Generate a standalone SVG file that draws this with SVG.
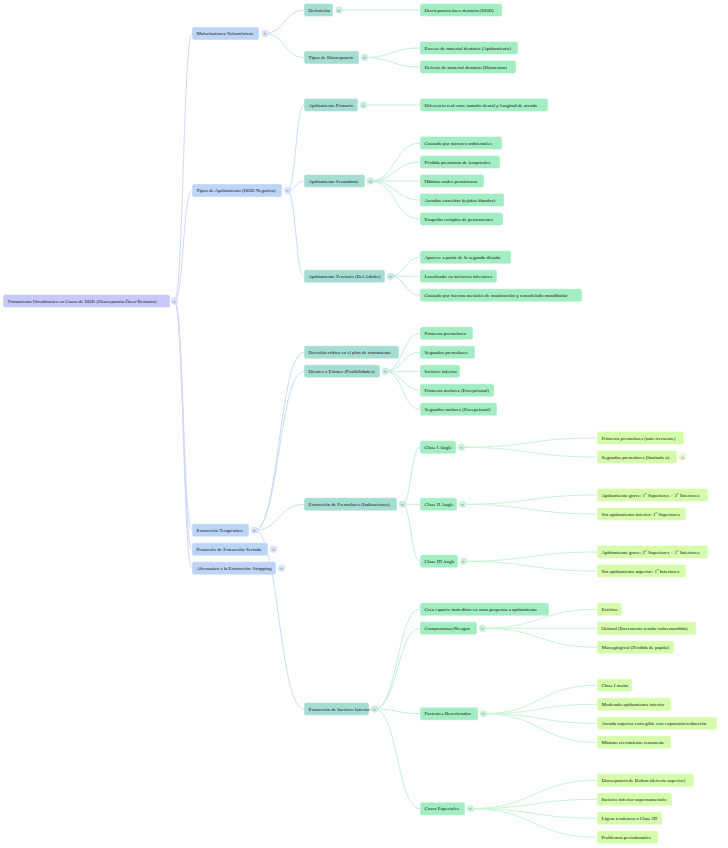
<svg xmlns="http://www.w3.org/2000/svg" width="728" height="848" viewBox="0 0 728 848">
<style>
rect.b{rx:2;ry:2;stroke:#ffffff;stroke-opacity:0.55;stroke-width:0.8}
.n0{fill:#c6c9fa}
.n1{fill:#bcd4f5}
.n2{fill:#a5ddd2}
.n3{fill:#a2eec2}
.n4{fill:#d5fcab}
text.t{font-family:"Liberation Serif","Times New Roman",serif;font-size:5px;fill:#151515;dominant-baseline:central}
path{fill:none;stroke-width:1}
.e0{stroke:#d3d7f8}
.e1{stroke:#cbdcf5}
.e2{stroke:#c3ede1}
.e3{stroke:#c8f4d4}
circle.g0{fill:#dfe2fa;stroke:#cfd3f5;stroke-width:0.5}
circle.g1{fill:#dbe6f8;stroke:#c6d7f2;stroke-width:0.5}
circle.g2{fill:#cdeee6;stroke:#b5e3d8;stroke-width:0.5}
circle.g3{fill:#cdf5da;stroke:#b5ecc8;stroke-width:0.5}
circle.g4{fill:#e6fdca;stroke:#d0f5a8;stroke-width:0.5}
text.k{font-family:"DejaVu Sans",sans-serif;font-size:4px;fill:#6a7080;text-anchor:middle;dominant-baseline:central}
</style>
<g id="connectors">
<path class="e0" d="M174.5 301 C183.3 301 183.3 33.5 192 33.5"/>
<path class="e0" d="M174.5 301 C183.3 301 183.3 190.5 192 190.5"/>
<path class="e0" d="M174.5 301 C183.3 301 183.3 530.3 192 530.3"/>
<path class="e0" d="M174.5 301 C183.3 301 183.3 549.3 192 549.3"/>
<path class="e0" d="M174.5 301 C183.3 301 183.3 568.3 192 568.3"/>
<path class="e1" d="M265 33.5 C284.5 33.5 284.5 10 304 10"/>
<path class="e1" d="M265 33.5 C284.5 33.5 284.5 57.5 304 57.5"/>
<path class="e1" d="M287.5 190.5 C295.8 190.5 295.8 105 304 105"/>
<path class="e1" d="M287.5 190.5 C295.8 190.5 295.8 181 304 181"/>
<path class="e1" d="M287.5 190.5 C295.8 190.5 295.8 276.3 304 276.3"/>
<path class="e1" d="M254.5 530.3 C279 530.3 279 352.3 304 352.3"/>
<path class="e1" d="M254.5 530.3 C279 530.3 279 371.3 304 371.3"/>
<path class="e1" d="M254.5 530.3 C279 530.3 279 504.3 304 504.3"/>
<path class="e1" d="M254.5 530.3 C279 530.3 279 709 304 709"/>
<path class="e2" d="M339 10 L420 10"/>
<path class="e2" d="M364.5 57.5 C392 57.5 392 48 420 48"/>
<path class="e2" d="M364.5 57.5 C392 57.5 392 67 420 67"/>
<path class="e2" d="M363.5 105 L420 105"/>
<path class="e2" d="M370.5 181 C395 181 395 143 420 143"/>
<path class="e2" d="M370.5 181 C395 181 395 162 420 162"/>
<path class="e2" d="M370.5 181 L420 181"/>
<path class="e2" d="M370.5 181 C395 181 395 200 420 200"/>
<path class="e2" d="M370.5 181 C395 181 395 219 420 219"/>
<path class="e2" d="M390.5 276.3 C405 276.3 405 257.3 420 257.3"/>
<path class="e2" d="M390.5 276.3 L420 276.3"/>
<path class="e2" d="M390.5 276.3 C405 276.3 405 295.3 420 295.3"/>
<path class="e2" d="M385.5 371.3 C402.5 371.3 402.5 333.3 420 333.3"/>
<path class="e2" d="M385.5 371.3 C402.5 371.3 402.5 352.3 420 352.3"/>
<path class="e2" d="M385.5 371.3 L420 371.3"/>
<path class="e2" d="M385.5 371.3 C402.5 371.3 402.5 390.3 420 390.3"/>
<path class="e2" d="M385.5 371.3 C402.5 371.3 402.5 409.3 420 409.3"/>
<path class="e2" d="M402.5 504.3 C411 504.3 411 447.3 420 447.3"/>
<path class="e2" d="M402.5 504.3 L420 504.3"/>
<path class="e2" d="M402.5 504.3 C411 504.3 411 561.3 420 561.3"/>
<path class="e2" d="M374.5 709 C397.5 709 397.5 609.3 420 609.3"/>
<path class="e2" d="M374.5 709 C397.5 709 397.5 628.3 420 628.3"/>
<path class="e2" d="M374.5 709 C397.5 709 397.5 713.7 420 713.7"/>
<path class="e2" d="M374.5 709 C397.5 709 397.5 808.7 420 808.7"/>
<path class="e3" d="M461.5 447.3 C529 447.3 529 438 597 438"/>
<path class="e3" d="M461.5 447.3 C529 447.3 529 457 597 457"/>
<path class="e3" d="M462.5 504.3 C530 504.3 530 495 597 495"/>
<path class="e3" d="M462.5 504.3 C530 504.3 530 514 597 514"/>
<path class="e3" d="M463.5 561.3 C530 561.3 530 552 597 552"/>
<path class="e3" d="M463.5 561.3 C530 561.3 530 571 597 571"/>
<path class="e3" d="M482.5 628.3 C540 628.3 540 609.3 597 609.3"/>
<path class="e3" d="M482.5 628.3 L597 628.3"/>
<path class="e3" d="M482.5 628.3 C540 628.3 540 647.3 597 647.3"/>
<path class="e3" d="M483.5 713.7 C540 713.7 540 685.3 597 685.3"/>
<path class="e3" d="M483.5 713.7 C540 713.7 540 704.3 597 704.3"/>
<path class="e3" d="M483.5 713.7 C540 713.7 540 723.3 597 723.3"/>
<path class="e3" d="M483.5 713.7 C540 713.7 540 742.3 597 742.3"/>
<path class="e3" d="M470.5 808.7 C534 808.7 534 780.3 597 780.3"/>
<path class="e3" d="M470.5 808.7 C534 808.7 534 799.3 597 799.3"/>
<path class="e3" d="M470.5 808.7 C534 808.7 534 818.3 597 818.3"/>
<path class="e3" d="M470.5 808.7 C534 808.7 534 837.3 597 837.3"/>
</g>

<g id="root"><rect class="b n0" x="3" y="294.5" width="167" height="13"/><text class="t" x="7.5" y="301">Tratamiento Ortodóncico en Casos de DOD (Discrepancia Óseo-Dentaria)</text><circle class="g0" cx="174.5" cy="301" r="3.3"/><text class="k" x="174.5" y="301">&lt;</text></g>

<g id="n-maloclusiones"><rect class="b n1" x="192" y="27" width="67" height="13"/><text class="t" x="196.5" y="33.5">Maloclusiones Volumétricas</text><circle class="g1" cx="265" cy="33.5" r="3.3"/><text class="k" x="265" y="33.5">&lt;</text></g>
<g id="n-tipos-apinamiento"><rect class="b n1" x="192" y="184" width="90" height="13"/><text class="t" x="196.5" y="190.5">Tipos de Apiñamiento (DOD Negativa)</text><circle class="g1" cx="287.5" cy="190.5" r="3.3"/><text class="k" x="287.5" y="190.5">&lt;</text></g>
<g id="n-extraccion-terapeutica"><rect class="b n1" x="192" y="523.8" width="57" height="13"/><text class="t" x="196.5" y="530.3">Extracción Terapéutica</text><circle class="g1" cx="254.5" cy="530.3" r="3.3"/><text class="k" x="254.5" y="530.3">&lt;</text></g>
<g id="n-protocolo"><rect class="b n1" x="192" y="542.8" width="76" height="13"/><text class="t" x="196.5" y="549.3">Protocolo de Extracción Seriada</text><circle class="g1" cx="273.5" cy="549.3" r="3.3"/><text class="k" x="273.5" y="549.3">&gt;</text></g>
<g id="n-stripping"><rect class="b n1" x="192" y="561.8" width="84" height="13"/><text class="t" x="196.5" y="568.3">Alternativa a la Extracción: Stripping</text><circle class="g1" cx="281.5" cy="568.3" r="3.3"/><text class="k" x="281.5" y="568.3">&gt;</text></g>

<g id="n-definicion"><rect class="b n2" x="304" y="3.5" width="29" height="13"/><text class="t" x="308.5" y="10">Definición</text><circle class="g2" cx="339" cy="10" r="3.3"/><text class="k" x="339" y="10">&lt;</text></g>
<g id="n-tipos-discrepancia"><rect class="b n2" x="304" y="51" width="55" height="13"/><text class="t" x="308.5" y="57.5">Tipos de Discrepancia</text><circle class="g2" cx="364.5" cy="57.5" r="3.3"/><text class="k" x="364.5" y="57.5">&lt;</text></g>
<g id="n-apin-primario"><rect class="b n2" x="304" y="98.5" width="54" height="13"/><text class="t" x="308.5" y="105">Apiñamiento Primario</text><circle class="g2" cx="363.5" cy="105" r="3.3"/><text class="k" x="363.5" y="105">&lt;</text></g>
<g id="n-apin-secundario"><rect class="b n2" x="304" y="174.5" width="61" height="13"/><text class="t" x="308.5" y="181">Apiñamiento Secundario</text><circle class="g2" cx="370.5" cy="181" r="3.3"/><text class="k" x="370.5" y="181">&lt;</text></g>
<g id="n-apin-terciario"><rect class="b n2" x="304" y="269.8" width="81" height="13"/><text class="t" x="308.5" y="276.3">Apiñamiento Terciario (Del Adulto)</text><circle class="g2" cx="390.5" cy="276.3" r="3.3"/><text class="k" x="390.5" y="276.3">&lt;</text></g>
<g id="n-decision"><rect class="b n2" x="304" y="345.8" width="95" height="13"/><text class="t" x="308.5" y="352.3">Decisión crítica en el plan de tratamiento</text></g>
<g id="n-dientes"><rect class="b n2" x="304" y="364.8" width="76" height="13"/><text class="t" x="308.5" y="371.3">Dientes a Extraer (Posibilidades)</text><circle class="g2" cx="385.5" cy="371.3" r="3.3"/><text class="k" x="385.5" y="371.3">&lt;</text></g>
<g id="n-ext-premolares"><rect class="b n2" x="304" y="497.8" width="93" height="13"/><text class="t" x="308.5" y="504.3">Extracción de Premolares (Indicaciones)</text><circle class="g2" cx="402.5" cy="504.3" r="3.3"/><text class="k" x="402.5" y="504.3">&lt;</text></g>
<g id="n-ext-incisivo"><rect class="b n2" x="304" y="702.5" width="65" height="13"/><text class="t" x="308.5" y="709">Extracción de Incisivo Inferior</text><circle class="g2" cx="374.5" cy="709" r="3.3"/><text class="k" x="374.5" y="709">&lt;</text></g>

<g id="n-dod"><rect class="b n3" x="420" y="3.5" width="82" height="13"/><text class="t" x="424.5" y="10">Discrepancia óseo dentaria (DOD)</text></g>
<g id="n-exceso"><rect class="b n3" x="420" y="41.5" width="98" height="13"/><text class="t" x="424.5" y="48">Exceso de material dentario (Apiñamiento)</text></g>
<g id="n-defecto"><rect class="b n3" x="420" y="60.5" width="96" height="13"/><text class="t" x="424.5" y="67">Defecto de material dentario (Diastemas)</text></g>
<g id="n-diferencia"><rect class="b n3" x="420" y="98.5" width="128" height="13"/><text class="t" x="424.5" y="105">Diferencia real entre tamaño dental y longitud de arcada</text></g>
<g id="n-ambientales"><rect class="b n3" x="420" y="136.5" width="82" height="13"/><text class="t" x="424.5" y="143">Causado por factores ambientales</text></g>
<g id="n-perdida"><rect class="b n3" x="420" y="155.5" width="80" height="13"/><text class="t" x="424.5" y="162">Pérdida prematura de temporales</text></g>
<g id="n-habitos"><rect class="b n3" x="420" y="174.5" width="64" height="13"/><text class="t" x="424.5" y="181">Hábitos orales perniciosos</text></g>
<g id="n-arcadas"><rect class="b n3" x="420" y="193.5" width="84" height="13"/><text class="t" x="424.5" y="200">Arcadas estrechas (tejidos blandos)</text></g>
<g id="n-erupcion"><rect class="b n3" x="420" y="212.5" width="83" height="13"/><text class="t" x="424.5" y="219">Erupción ectópica de permanentes</text></g>
<g id="n-aparece"><rect class="b n3" x="420" y="250.8" width="91" height="13"/><text class="t" x="424.5" y="257.3">Aparece a partir de la segunda década</text></g>
<g id="n-localizado"><rect class="b n3" x="420" y="269.8" width="77" height="13"/><text class="t" x="424.5" y="276.3">Localizado en incisivos inferiores</text></g>
<g id="n-fuerzas"><rect class="b n3" x="420" y="288.8" width="162" height="13"/><text class="t" x="424.5" y="295.3">Causado por fuerzas mesiales de masticación y remodelado mandibular</text></g>
<g id="n-primeros-premolares"><rect class="b n3" x="420" y="326.8" width="53" height="13"/><text class="t" x="424.5" y="333.3">Primeros premolares</text></g>
<g id="n-segundos-premolares"><rect class="b n3" x="420" y="345.8" width="55" height="13"/><text class="t" x="424.5" y="352.3">Segundos premolares</text></g>
<g id="n-incisivo"><rect class="b n3" x="420" y="364.8" width="40" height="13"/><text class="t" x="424.5" y="371.3">Incisivo inferior</text></g>
<g id="n-primeros-molares"><rect class="b n3" x="420" y="383.8" width="74" height="13"/><text class="t" x="424.5" y="390.3">Primeros molares (Excepcional)</text></g>
<g id="n-segundos-molares"><rect class="b n3" x="420" y="402.8" width="77" height="13"/><text class="t" x="424.5" y="409.3">Segundos molares (Excepcional)</text></g>
<g id="n-clase1"><rect class="b n3" x="420" y="440.8" width="36" height="13"/><text class="t" x="424.5" y="447.3">Clase I Angle</text><circle class="g3" cx="461.5" cy="447.3" r="3.3"/><text class="k" x="461.5" y="447.3">&lt;</text></g>
<g id="n-clase2"><rect class="b n3" x="420" y="497.8" width="37" height="13"/><text class="t" x="424.5" y="504.3">Clase II Angle</text><circle class="g3" cx="462.5" cy="504.3" r="3.3"/><text class="k" x="462.5" y="504.3">&lt;</text></g>
<g id="n-clase3"><rect class="b n3" x="420" y="554.8" width="38" height="13"/><text class="t" x="424.5" y="561.3">Clase III Angle</text><circle class="g3" cx="463.5" cy="561.3" r="3.3"/><text class="k" x="463.5" y="561.3">&lt;</text></g>
<g id="n-crea-espacio"><rect class="b n3" x="420" y="602.8" width="129" height="13"/><text class="t" x="424.5" y="609.3">Crea espacio inmediato en zona propensa a apiñamiento</text></g>
<g id="n-compromisos"><rect class="b n3" x="420" y="621.8" width="57" height="13"/><text class="t" x="424.5" y="628.3">Compromisos/Riesgos</text><circle class="g3" cx="482.5" cy="628.3" r="3.3"/><text class="k" x="482.5" y="628.3">&lt;</text></g>
<g id="n-pacientes"><rect class="b n3" x="420" y="707.2" width="58" height="13"/><text class="t" x="424.5" y="713.7">Pacientes Beneficiados</text><circle class="g3" cx="483.5" cy="713.7" r="3.3"/><text class="k" x="483.5" y="713.7">&lt;</text></g>
<g id="n-casos"><rect class="b n3" x="420" y="802.2" width="45" height="13"/><text class="t" x="424.5" y="808.7">Casos Especiales</text><circle class="g3" cx="470.5" cy="808.7" r="3.3"/><text class="k" x="470.5" y="808.7">&lt;</text></g>

<g id="n-c1-primeros"><rect class="b n4" x="597" y="431.5" width="87" height="13"/><text class="t" x="601.5" y="438">Primeros premolares (más frecuente)</text></g>
<g id="n-c1-segundos"><rect class="b n4" x="597" y="450.5" width="80" height="13"/><text class="t" x="601.5" y="457">Segundos premolares (limitado a)</text><circle class="g4" cx="682.5" cy="457" r="3.3"/><text class="k" x="682.5" y="457">&gt;</text></g>
<g id="n-c2-grave"><rect class="b n4" x="597" y="488.5" width="111" height="13"/><text class="t" x="601.5" y="495">Apiñamiento grave: 1º Superiores + 2º Inferiores</text></g>
<g id="n-c2-sin"><rect class="b n4" x="597" y="507.5" width="89" height="13"/><text class="t" x="601.5" y="514">Sin apiñamiento inferior: 1º Superiores</text></g>
<g id="n-c3-grave"><rect class="b n4" x="597" y="545.5" width="111" height="13"/><text class="t" x="601.5" y="552">Apiñamiento grave: 2º Superiores + 1º Inferiores</text></g>
<g id="n-c3-sin"><rect class="b n4" x="597" y="564.5" width="89" height="13"/><text class="t" x="601.5" y="571">Sin apiñamiento superior: 1º Inferiores</text></g>
<g id="n-estetico"><rect class="b n4" x="597" y="602.8" width="25" height="13"/><text class="t" x="601.5" y="609.3">Estético</text></g>
<g id="n-oclusal"><rect class="b n4" x="597" y="621.8" width="99" height="13"/><text class="t" x="601.5" y="628.3">Oclusal (Incremento resalte/sobremordida)</text></g>
<g id="n-mucogingival"><rect class="b n4" x="597" y="640.8" width="77" height="13"/><text class="t" x="601.5" y="647.3">Mucogingival (Pérdida de papila)</text></g>
<g id="n-clase1-molar"><rect class="b n4" x="597" y="678.8" width="35" height="13"/><text class="t" x="601.5" y="685.3">Clase I molar</text></g>
<g id="n-moderado"><rect class="b n4" x="597" y="697.8" width="74" height="13"/><text class="t" x="601.5" y="704.3">Moderado apiñamiento inferior</text></g>
<g id="n-arcada-superior"><rect class="b n4" x="597" y="716.8" width="120" height="13"/><text class="t" x="601.5" y="723.3">Arcada superior corregible con expansión/reducción</text></g>
<g id="n-minimo"><rect class="b n4" x="597" y="735.8" width="74" height="13"/><text class="t" x="601.5" y="742.3">Mínimo crecimiento remanente</text></g>
<g id="n-bolton"><rect class="b n4" x="597" y="773.8" width="97" height="13"/><text class="t" x="601.5" y="780.3">Discrepancia de Bolton (defecto superior)</text></g>
<g id="n-supernumerario"><rect class="b n4" x="597" y="792.8" width="75" height="13"/><text class="t" x="601.5" y="799.3">Incisivo inferior supernumerario</text></g>
<g id="n-ligera"><rect class="b n4" x="597" y="811.8" width="65" height="13"/><text class="t" x="601.5" y="818.3">Ligera tendencia a Clase III</text></g>
<g id="n-periodontales"><rect class="b n4" x="597" y="830.8" width="61" height="13"/><text class="t" x="601.5" y="837.3">Problemas periodontales</text></g>
</svg>
